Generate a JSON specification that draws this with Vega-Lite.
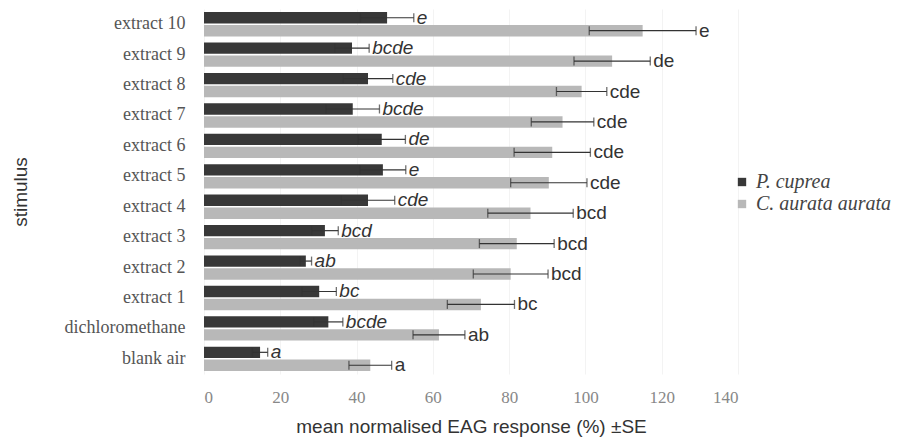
{
  "$schema": "https://vega.github.io/schema/vega-lite/v6.json",
  "width": 534,
  "height": 365,
  "autosize": {"type": "none"},
  "padding": {"left": 204, "top": 9, "right": 184, "bottom": 69},
  "background": "white",
  "config": {
    "view": {"stroke": null},
    "axis": {"gridColor": "#f3f3f3", "domain": false, "ticks": false}
  },
  "data": {
    "values": [
      {"stimulus": "extract 10", "species": "P. cuprea", "mean": 48, "se": 7, "letter": "e"},
      {"stimulus": "extract 9", "species": "P. cuprea", "mean": 38.8, "se": 4.5, "letter": "bcde"},
      {"stimulus": "extract 8", "species": "P. cuprea", "mean": 43, "se": 6.5, "letter": "cde"},
      {"stimulus": "extract 7", "species": "P. cuprea", "mean": 39, "se": 7, "letter": "bcde"},
      {"stimulus": "extract 6", "species": "P. cuprea", "mean": 46.6, "se": 6.2, "letter": "de"},
      {"stimulus": "extract 5", "species": "P. cuprea", "mean": 46.9, "se": 6, "letter": "e"},
      {"stimulus": "extract 4", "species": "P. cuprea", "mean": 43, "se": 7, "letter": "cde"},
      {"stimulus": "extract 3", "species": "P. cuprea", "mean": 31.7, "se": 3.5, "letter": "bcd"},
      {"stimulus": "extract 2", "species": "P. cuprea", "mean": 26.7, "se": 1.5, "letter": "ab"},
      {"stimulus": "extract 1", "species": "P. cuprea", "mean": 30.2, "se": 4.5, "letter": "bc"},
      {"stimulus": "dichloromethane", "species": "P. cuprea", "mean": 32.6, "se": 3.8, "letter": "bcde"},
      {"stimulus": "blank air", "species": "P. cuprea", "mean": 14.7, "se": 2, "letter": "a"},
      {"stimulus": "extract 10", "species": "C. aurata aurata", "mean": 115, "se": 14, "letter": "e"},
      {"stimulus": "extract 9", "species": "C. aurata aurata", "mean": 107, "se": 10, "letter": "de"},
      {"stimulus": "extract 8", "species": "C. aurata aurata", "mean": 99, "se": 6.6, "letter": "cde"},
      {"stimulus": "extract 7", "species": "C. aurata aurata", "mean": 94, "se": 8.2, "letter": "cde"},
      {"stimulus": "extract 6", "species": "C. aurata aurata", "mean": 91.3, "se": 10, "letter": "cde"},
      {"stimulus": "extract 5", "species": "C. aurata aurata", "mean": 90.4, "se": 10, "letter": "cde"},
      {"stimulus": "extract 4", "species": "C. aurata aurata", "mean": 85.6, "se": 11.2, "letter": "bcd"},
      {"stimulus": "extract 3", "species": "C. aurata aurata", "mean": 82, "se": 9.8, "letter": "bcd"},
      {"stimulus": "extract 2", "species": "C. aurata aurata", "mean": 80.4, "se": 9.8, "letter": "bcd"},
      {"stimulus": "extract 1", "species": "C. aurata aurata", "mean": 72.6, "se": 8.8, "letter": "bc"},
      {"stimulus": "dichloromethane", "species": "C. aurata aurata", "mean": 61.6, "se": 6.8, "letter": "ab"},
      {"stimulus": "blank air", "species": "C. aurata aurata", "mean": 43.6, "se": 5.6, "letter": "a"}
    ]
  },
  "transform": [
    {"calculate": "datum.mean - datum.se", "as": "lo"},
    {"calculate": "datum.mean + datum.se", "as": "hi"}
  ],
  "encoding": {
    "y": {
      "field": "stimulus",
      "type": "nominal",
      "scale": {
        "domain": ["extract 10", "extract 9", "extract 8", "extract 7", "extract 6", "extract 5", "extract 4", "extract 3", "extract 2", "extract 1", "dichloromethane", "blank air"],
        "paddingInner": 0.2,
        "paddingOuter": 0.1
      },
      "axis": {
        "title": "stimulus",
        "titleFont": "Liberation Sans",
        "titleFontSize": 19,
        "titleFontWeight": "normal",
        "titleColor": "#333333",
        "titlePadding": 34,
        "labelFont": "Liberation Serif",
        "labelFontSize": 18,
        "labelColor": "#555555",
        "labelPadding": 19
      }
    },
    "yOffset": {
      "field": "species",
      "type": "nominal",
      "scale": {"domain": ["P. cuprea", "C. aurata aurata"], "paddingInner": 0.12}
    }
  },
  "layer": [
    {
      "mark": {"type": "bar"},
      "encoding": {
        "x": {
          "field": "mean",
          "type": "quantitative",
          "scale": {"domain": [0, 140], "nice": false},
          "axis": {
            "values": [0, 20, 40, 60, 80, 100, 120, 140],
            "grid": true,
            "title": "mean normalised EAG response (%) ±SE",
            "titleFont": "Liberation Sans",
            "titleFontSize": 19,
            "titleFontWeight": "normal",
            "titleColor": "#333333",
            "titlePadding": 12,
            "labelFont": "Liberation Serif",
            "labelFontSize": 17,
            "labelColor": "#888888",
            "labelPadding": 15
          }
        },
        "color": {
          "field": "species",
          "type": "nominal",
          "scale": {"domain": ["P. cuprea", "C. aurata aurata"], "range": ["#383838", "#b8b8b8"]},
          "legend": {
            "title": null,
            "orient": "none",
            "legendX": 528,
            "legendY": 163,
            "symbolType": "square",
            "symbolSize": 70,
            "symbolStrokeWidth": 0,
            "labelFont": "Liberation Serif",
            "labelFontStyle": "italic",
            "labelFontSize": 20,
            "labelColor": "#444444",
            "rowPadding": 2
          }
        }
      }
    },
    {
      "mark": {"type": "rule", "color": "#333333", "strokeWidth": 1.2},
      "encoding": {
        "x": {"field": "lo", "type": "quantitative"},
        "x2": {"field": "hi"}
      }
    },
    {
      "mark": {"type": "tick", "color": "#333333", "thickness": 1.3, "size": 9},
      "encoding": {
        "x": {"field": "lo", "type": "quantitative"}
      }
    },
    {
      "mark": {"type": "tick", "color": "#333333", "thickness": 1.3, "size": 9},
      "encoding": {
        "x": {"field": "hi", "type": "quantitative"}
      }
    },
    {
      "transform": [{"filter": "datum.species === 'P. cuprea'"}],
      "mark": {"type": "text", "align": "left", "baseline": "middle", "dx": 3, "font": "Liberation Sans", "fontSize": 19, "fontStyle": "italic", "color": "#333333"},
      "encoding": {
        "x": {"field": "hi", "type": "quantitative"},
        "text": {"field": "letter"}
      }
    },
    {
      "transform": [{"filter": "datum.species === 'C. aurata aurata'"}],
      "mark": {"type": "text", "align": "left", "baseline": "middle", "dx": 3, "font": "Liberation Sans", "fontSize": 19, "color": "#333333"},
      "encoding": {
        "x": {"field": "hi", "type": "quantitative"},
        "text": {"field": "letter"}
      }
    }
  ]
}
